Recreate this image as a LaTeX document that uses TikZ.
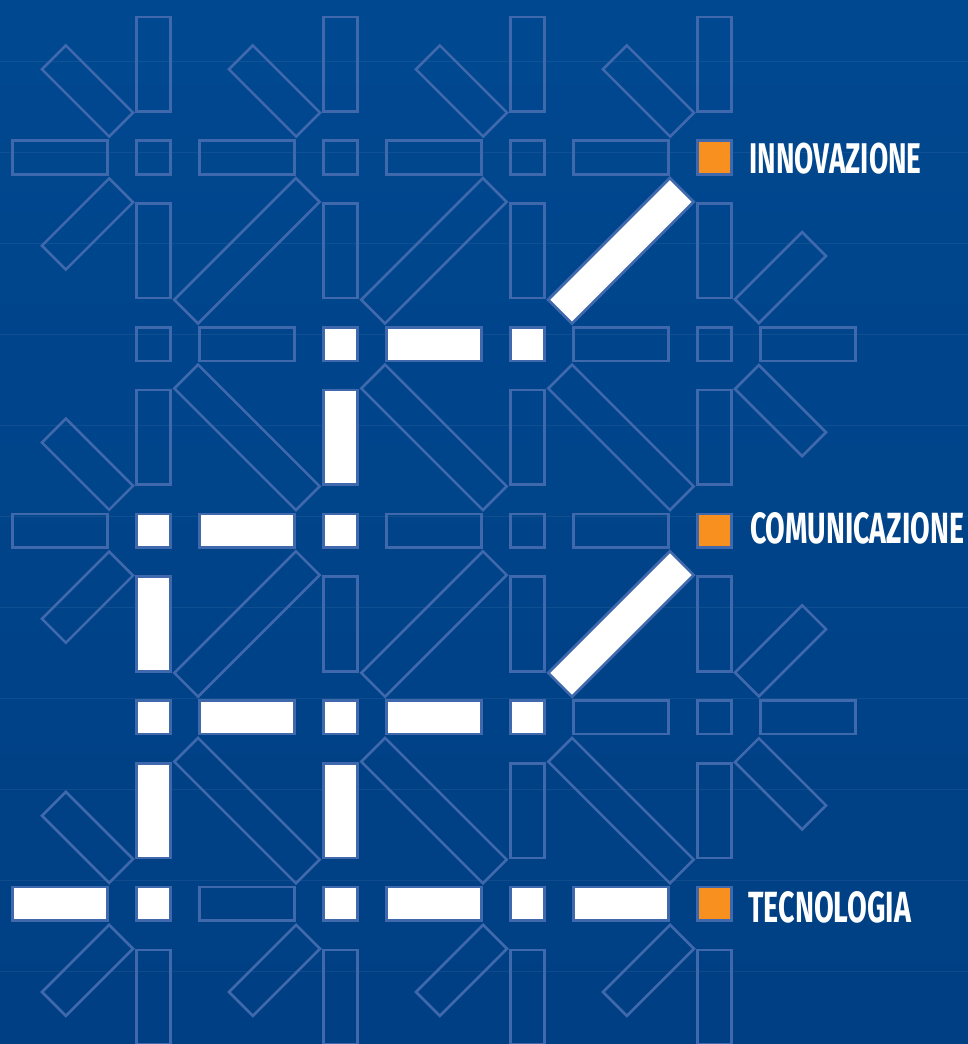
\documentclass[tikz,border=0pt]{standalone}
\usepackage{graphicx}
\usepackage{fontspec}
\setmainfont{Fira Sans}
\definecolor{bgtop}{HTML}{004D97}
\definecolor{bgbot}{HTML}{003A7C}
\definecolor{barline}{HTML}{4068AC}
\definecolor{mark}{HTML}{F7901E}
\pgfdeclareverticalshading{pagegrad}{100bp}{color(0bp)=(bgbot); color(100bp)=(bgtop)}
\tikzset{
  x=1pt,y=-1pt,
  pieceshape/.style={draw=barline,line width=2.6pt,inner sep=0pt,outer sep=0pt,rectangle},
  hbar/.style={pieceshape,minimum width=94.6pt,minimum height=33.6pt},
  vbar/.style={pieceshape,minimum width=33.6pt,minimum height=94.6pt},
  sq/.style={pieceshape,minimum width=33.6pt,minimum height=33.6pt},
  petalup/.style={pieceshape,minimum width=95pt,minimum height=33.8pt,rotate=45},
  petaldown/.style={pieceshape,minimum width=95pt,minimum height=33.8pt,rotate=-45},
  longup/.style={pieceshape,minimum width=172pt,minimum height=33.6pt,rotate=45},
  longdown/.style={pieceshape,minimum width=172pt,minimum height=33.6pt,rotate=-45},
  lit/.style={fill=white},
  markfill/.style={fill=mark},
  lab/.style={anchor=west,inner sep=0pt,outer sep=0pt,text=white,font=\bfseries},
}
\newcommand{\gridx}[1]{153.5+93.5*#1}
\newcommand{\gridy}[1]{157.5+93.3*#1}
\begin{document}
\begin{tikzpicture}
\useasboundingbox (0,0) rectangle (968,1044);
\shade[shading=pagegrad] (0,0) rectangle (968,1044);
\foreach \k in {0,...,10}
  \draw[white,opacity=0.06,line width=1pt] (0,{61+91*\k}) -- (968,{61+91*\k});
% squares
\foreach \i in {0,2,4,6} \foreach \j in {0,2,4,6,8}
  \node[sq] (s\i-\j) at ({\gridx{\i}},{\gridy{\j}}) {};
\foreach \i/\j in {2/2,4/2,0/4,2/4,0/6,2/6,4/6,0/8,2/8,4/8}
  \node[sq,lit] (sw\i-\j) at ({\gridx{\i}},{\gridy{\j}}) {};
\foreach \j in {0,4,8}
  \node[sq,markfill] (so\j) at ({\gridx{6}},{\gridy{\j}}) {};
% vertical bars
\foreach \i in {0,2,4,6} \foreach \j in {-1,1,3,5,7,9}
  \node[vbar] (v\i-\j) at ({\gridx{\i}},{\gridy{\j}}) {};
\foreach \i/\j in {2/3,0/5,0/7,2/7}
  \node[vbar,lit] (vw\i-\j) at ({\gridx{\i}},{\gridy{\j}}) {};
% horizontal bars
\foreach \i in {1,3,5} \foreach \j in {0,2,4,6,8}
  \node[hbar] (h\i-\j) at ({\gridx{\i}},{\gridy{\j}}) {};
\foreach \i/\j in {-1/0,-1/4,7/2,7/6}
  \node[hbar] (hs\i-\j) at ({\gridx{\i}},{\gridy{\j}}) {};
\foreach \i/\j in {3/2,1/4,1/6,3/6,3/8,5/8,-1/8}
  \node[hbar,lit] (hw\i-\j) at ({\gridx{\i}},{\gridy{\j}}) {};
% long diagonals
\foreach \i in {1,3,5} {
  \foreach \j in {1,5}
    \node[longup] (lu\i-\j) at ({\gridx{\i}},{\gridy{\j}}) {};
  \foreach \j in {3,7}
    \node[longdown] (ld\i-\j) at ({\gridx{\i}},{\gridy{\j}}) {};
}
\foreach \j in {1,5}
  \node[longup,lit] (luw\j) at ({\gridx{5}},{\gridy{\j}}) {};
% short diagonals
\foreach \i/\j in {0/0,2/0,4/0,6/0,0/4,0/8}
  \node[petaldown] (pa\i-\j) at ({\gridx{\i}-66},{\gridy{\j}-66.5}) {};
\foreach \i/\j in {0/0,0/4,0/8,2/8,4/8,6/8}
  \node[petalup] (pb\i-\j) at ({\gridx{\i}-66},{\gridy{\j}+66.5}) {};
\foreach \j in {2,6} {
  \node[petalup] (pc\j) at ({\gridx{6}+66},{\gridy{\j}-66.5}) {};
  \node[petaldown] (pd\j) at ({\gridx{6}+66},{\gridy{\j}+66.5}) {};
}
% labels
\node[lab] (t1) at (749.5,158.7) {\resizebox{172pt}{30.5pt}{INNOVAZIONE}};
\node[lab] (t2) at (750,528.5) {\resizebox{214pt}{31pt}{COMUNICAZIONE}};
\node[lab] (t3) at (748.5,907.5) {\resizebox{162.5pt}{31pt}{TECNOLOGIA}};
\end{tikzpicture}
\end{document}
